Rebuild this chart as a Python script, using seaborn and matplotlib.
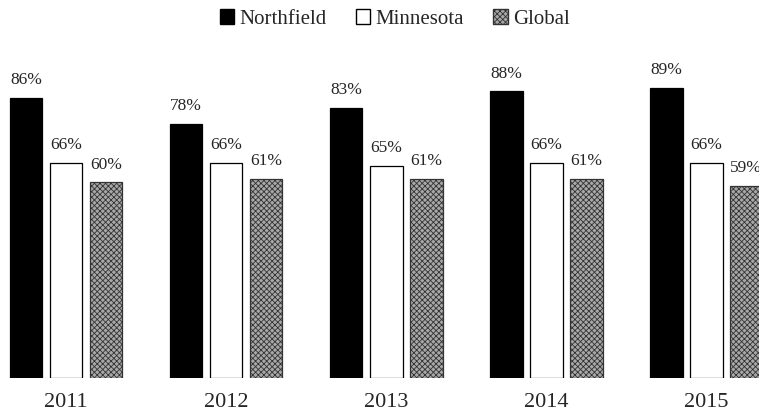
import pandas as pd
import numpy as np
import matplotlib.pyplot as plt
import matplotlib.patches as mpatches
import seaborn as sns

years = ["2011", "2012", "2013", "2014", "2015"]
regions = ["Northfield", "Minnesota", "Global"]
northfield = [86, 78, 83, 88, 89]
minnesota = [66, 66, 65, 66, 66]
global_vals = [60, 61, 61, 61, 59]

df = pd.DataFrame({
    "Year": years * 3,
    "Region": ["Northfield"] * 5 + ["Minnesota"] * 5 + ["Global"] * 5,
    "Value": northfield + minnesota + global_vals,
})

sns.set_style("white")
plt.rcParams["font.family"] = ["Liberation Serif", "DejaVu Serif"]
plt.rcParams["hatch.linewidth"] = 0.6

colors = {"Northfield": "black", "Minnesota": "white", "Global": "#a8a8a8"}

fig = plt.figure(figsize=(7.59, 4.17), dpi=100)
ax = fig.add_axes([0, 0.0935, 1, 0.7815])

sns.barplot(data=df, x="Year", y="Value", hue="Region", hue_order=regions,
            palette=colors, width=0.75, gap=0.18, edgecolor="black",
            linewidth=0.9, legend=False, ax=ax)

# texture for the Global bars
for p in ax.containers[2]:
    p.set_hatch("xxxxxx")
    p.set_edgecolor("#333333")

for cont in ax.containers:
    vals = [int(round(b.get_height())) for b in cont]
    ax.bar_label(cont, labels=[f"{v}%" for v in vals], padding=7, fontsize=12.5)

ax.set_xlim(-0.4125, 4.33)
ax.set_ylim(0, 100)
ax.axhline(0, color="#bbbbbb", lw=0.8, ls=(0, (1, 3)))
ax.set_xlabel("")
ax.set_ylabel("")
ax.set_yticks([])
ax.tick_params(axis="x", length=0, labelsize=16, pad=11)
sns.despine(ax=ax, left=True, bottom=True)

handles = [
    mpatches.Patch(facecolor="black", edgecolor="black", label="Northfield"),
    mpatches.Patch(facecolor="white", edgecolor="black", label="Minnesota"),
    mpatches.Patch(facecolor="#a8a8a8", edgecolor="#333333", hatch="xxxxxx", label="Global"),
]
fig.legend(handles=handles, loc="center", bbox_to_anchor=(0.52, 0.955), ncol=3,
           frameon=False, fontsize=15, handlelength=0.7, handleheight=0.7,
           handletextpad=0.25, columnspacing=1.4)

fig.savefig("out.png", dpi=100)
